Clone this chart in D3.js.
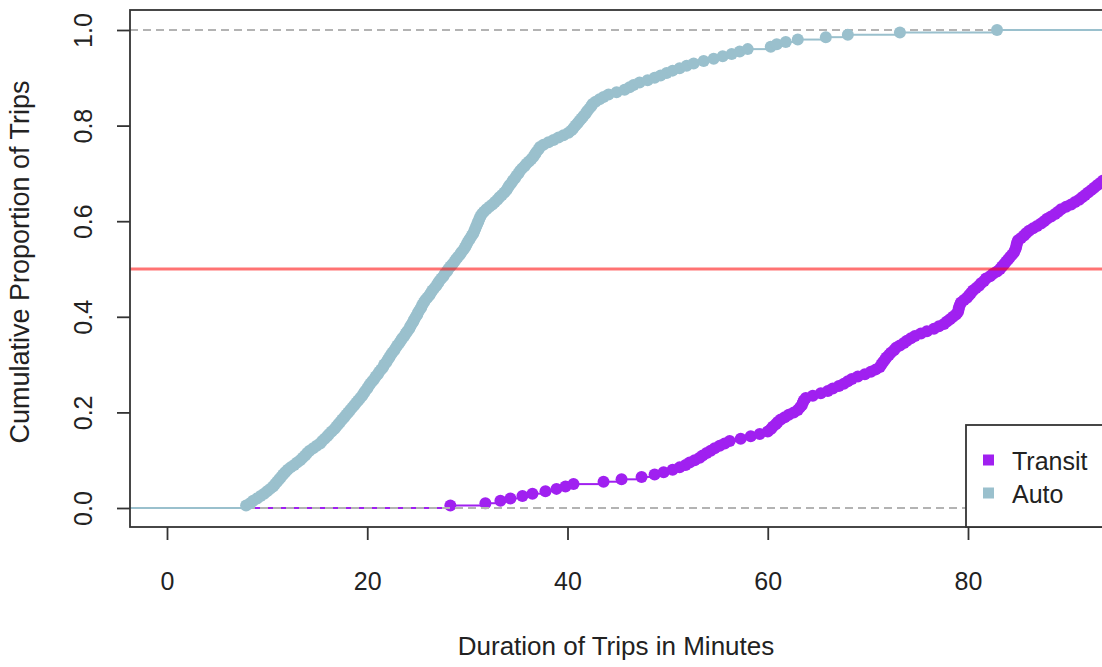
<!DOCTYPE html>
<html><head><meta charset="utf-8">
<script src="https://cdn.jsdelivr.net/npm/d3@7"></script>
<style>
body{margin:0;background:#fff}
svg{display:block;font-family:"Liberation Sans",Arial,sans-serif}
</style>
</head><body><svg id="c" width="1102" height="667"></svg>
<script>
// Trip durations (minutes)
const autoDurations = [
7.9, 8.3, 8.6, 9.0, 9.35, 9.7, 10.0, 10.3, 10.6, 10.8,
11.0, 11.2, 11.4, 11.6, 11.8, 12.05, 12.35, 12.7, 13.0, 13.3,
13.55, 13.8, 14.0, 14.25, 14.6, 14.95, 15.3, 15.5, 15.75, 16.0,
16.2, 16.45, 16.7, 16.9, 17.1, 17.3, 17.5, 17.7, 17.9, 18.1,
18.3, 18.5, 18.7, 18.9, 19.1, 19.3, 19.5, 19.65, 19.8, 20.0,
20.15, 20.3, 20.5, 20.7, 20.85, 21.05, 21.2, 21.4, 21.6, 21.7,
21.9, 22.05, 22.2, 22.35, 22.5, 22.7, 22.85, 23.0, 23.2, 23.35,
23.5, 23.7, 23.85, 24.0, 24.2, 24.3, 24.45, 24.6, 24.7, 24.85,
25.0, 25.1, 25.25, 25.4, 25.5, 25.65, 25.8, 26.0, 26.2, 26.35,
26.5, 26.7, 26.9, 27.05, 27.2, 27.4, 27.6, 27.75, 27.95, 28.1,
28.3, 28.5, 28.7, 28.85, 29.05, 29.25, 29.4, 29.6, 29.75, 29.9,
30.0, 30.15, 30.3, 30.45, 30.6, 30.7, 30.8, 30.9, 31.0, 31.1,
31.2, 31.3, 31.45, 31.65, 31.9, 32.2, 32.5, 32.75, 33.0, 33.2,
33.45, 33.7, 33.9, 34.05, 34.2, 34.4, 34.55, 34.75, 34.9, 35.1,
35.25, 35.45, 35.7, 35.9, 36.15, 36.4, 36.6, 36.75, 36.9, 37.1,
37.25, 37.6, 38.1, 38.6, 39.1, 39.6, 40.1, 40.4, 40.6, 40.8,
41.0, 41.2, 41.4, 41.6, 41.8, 41.95, 42.15, 42.35, 42.5, 42.8,
43.2, 43.6, 44.1, 44.9, 45.7, 46.2, 46.6, 47.2, 48.0, 48.7,
49.3, 49.9, 50.5, 51.2, 51.9, 52.6, 53.6, 54.6, 55.5, 56.4,
57.2, 58.0, 60.3, 60.9, 61.8, 63.0, 65.8, 68.0, 73.2, 82.9
];
// Transit trips visible within the axis range (longer trips lie beyond the right edge)
const transitDurations = [
28.3, 31.8, 33.3, 34.3, 35.5, 36.5, 37.8, 38.9, 39.8, 40.6,
43.6, 45.4, 47.4, 48.7, 49.6, 50.5, 51.2, 51.8, 52.2, 52.7,
53.2, 53.5, 53.9, 54.3, 54.7, 55.2, 55.7, 56.2, 57.3, 58.3,
59.2, 60.0, 60.3, 60.5, 60.8, 61.0, 61.3, 61.7, 62.1, 62.6,
63.0, 63.2, 63.4, 63.5, 63.6, 63.8, 64.5, 65.3, 66.0, 66.5,
67.1, 67.6, 68.0, 68.4, 69.0, 69.7, 70.3, 70.8, 71.2, 71.35,
71.5, 71.7, 71.85, 72.1, 72.3, 72.6, 72.8, 73.2, 73.6, 73.9,
74.3, 74.7, 75.3, 75.9, 76.6, 77.1, 77.6, 77.9, 78.2, 78.5,
78.8, 79.0, 79.05, 79.1, 79.2, 79.3, 79.6, 79.9, 80.1, 80.3,
80.5, 80.8, 81.1, 81.3, 81.6, 81.8, 82.2, 82.5, 82.9, 83.2,
83.4, 83.6, 83.8, 84.0, 84.2, 84.4, 84.6, 84.7, 84.8, 84.85,
84.9, 85.0, 85.3, 85.6, 85.8, 86.1, 86.5, 86.9, 87.3, 87.6,
87.9, 88.3, 88.7, 89.0, 89.3, 89.8, 90.3, 90.7, 91.1, 91.4,
91.7, 92.0, 92.3, 92.6, 92.9, 93.2, 93.5
];
const transitTotalTrips = 200;
const autoTotalTrips = autoDurations.length;

const xTicks = [0, 20, 40, 60, 80];
const yTicks = [0, 0.2, 0.4, 0.6, 0.8, 1.0];
const yTickLabels = ["0.0", "0.2", "0.4", "0.6", "0.8", "1.0"];
const seriesNames = ["Transit", "Auto"];
const seriesColors = ["#A020F0", "#9AC0CD"];
const referenceLevel = 0.5;
const xTitle = "Duration of Trips in Minutes";
const yTitle = "Cumulative Proportion of Trips";

const svg = d3.select("#c");
const plot = {left: 130, top: 10, right: 1130, bottom: 527};

const x = d3.scaleLinear().domain([0, 80]).range([167, 968]);
const y = d3.scaleLinear().domain([0, 1]).range([508, 30]);
const xMin = x.invert(plot.left), xMax = x.invert(plot.right);

svg.append("rect").attr("width", 1102).attr("height", 667).attr("fill", "#fff");

svg.append("defs").append("clipPath").attr("id", "clip")
  .append("rect").attr("x", plot.left).attr("y", plot.top)
  .attr("width", plot.right - plot.left).attr("height", plot.bottom - plot.top);

const g = svg.append("g").attr("clip-path", "url(#clip)");

function ecdf(values, n) {
  const s = values.slice().sort((a, b) => a - b);
  return s.map((v, i) => ({x: v, p: (i + 1) / n}));
}

function drawEcdf(values, n, color) {
  const pts = ecdf(values, n);
  const segs = [{x0: xMin, x1: pts[0].x, p: 0}];
  pts.forEach((d, i) => {
    const next = i + 1 < pts.length ? pts[i + 1].x : xMax;
    segs.push({x0: d.x, x1: next, p: d.p});
  });
  const grp = g.append("g");
  grp.selectAll("line").data(segs).join("line")
    .attr("x1", d => x(d.x0)).attr("x2", d => x(d.x1))
    .attr("y1", d => y(d.p)).attr("y2", d => y(d.p))
    .attr("stroke", color).attr("stroke-width", 2);
  grp.selectAll("circle").data(pts).join("circle")
    .attr("cx", d => x(d.x)).attr("cy", d => y(d.p))
    .attr("r", 6).attr("fill", color);
}

// transit first (main plot), then reference dashed lines, then auto added
drawEcdf(transitDurations, transitTotalTrips, seriesColors[0]);

g.selectAll("line.ref01").data([0, 1]).join("line").attr("class", "ref01")
  .attr("x1", plot.left).attr("x2", plot.right)
  .attr("y1", d => y(d)).attr("y2", d => y(d))
  .attr("stroke", "#b3b3b3").attr("stroke-width", 1.8)
  .attr("stroke-dasharray", "8,5");

drawEcdf(autoDurations, autoTotalTrips, seriesColors[1]);

g.append("line")
  .attr("x1", plot.left).attr("x2", plot.right)
  .attr("y1", y(referenceLevel)).attr("y2", y(referenceLevel))
  .attr("stroke", "rgba(255,0,0,0.55)").attr("stroke-width", 2.8);

// frame
svg.append("rect").attr("x", plot.left).attr("y", plot.top)
  .attr("width", plot.right - plot.left).attr("height", plot.bottom - plot.top)
  .attr("fill", "none").attr("stroke", "#333").attr("stroke-width", 1.8);

// x axis
const xAxis = d3.axisBottom(x).tickValues(xTicks).tickSize(13).tickPadding(32)
  .tickFormat(d3.format("d"));
const xa = svg.append("g").attr("transform", `translate(0,${plot.bottom})`).call(xAxis);
xa.select(".domain").remove();
xa.selectAll(".tick line").attr("stroke", "#333").attr("stroke-width", 1.8);
xa.selectAll(".tick text").attr("font-size", 25).attr("fill", "#222")
  .attr("font-family", "Liberation Sans, Arial, sans-serif");

// y axis
const ya = svg.append("g").attr("transform", `translate(${plot.left},0)`)
  .call(d3.axisLeft(y).tickValues(yTicks).tickSize(13)
    .tickFormat((d, i) => yTickLabels[i]));
ya.select(".domain").remove();
ya.selectAll(".tick line").attr("stroke", "#333").attr("stroke-width", 1.8);
ya.selectAll(".tick text")
  .attr("font-size", 25).attr("fill", "#222")
  .attr("font-family", "Liberation Sans, Arial, sans-serif")
  .attr("text-anchor", "middle").attr("dy", null)
  .attr("x", null)
  .attr("transform", "translate(-38,0) rotate(-90)");

// titles
svg.append("text").attr("x", 616).attr("y", 655).attr("text-anchor", "middle")
  .attr("font-size", 26).attr("fill", "#222").text(xTitle);
svg.append("text").attr("transform", "translate(29,262) rotate(-90)")
  .attr("text-anchor", "middle").attr("font-size", 27).attr("fill", "#222").text(yTitle);

// legend
const lg = svg.append("g");
lg.append("rect").attr("x", 966).attr("y", 425).attr("width", 160).attr("height", plot.bottom - 425)
  .attr("fill", "#fff").attr("stroke", "#333").attr("stroke-width", 1.8);
const items = lg.selectAll("g.item").data(seriesNames).join("g").attr("class", "item")
  .attr("transform", (d, i) => `translate(0,${460 + i * 33})`);
items.append("rect").attr("x", 983).attr("y", -5.5).attr("width", 11).attr("height", 11)
  .attr("fill", (d, i) => seriesColors[i]);
items.append("text").attr("x", 1012).attr("y", 10).attr("font-size", 25).attr("fill", "#222")
  .text(d => d);
</script>
</body></html>
